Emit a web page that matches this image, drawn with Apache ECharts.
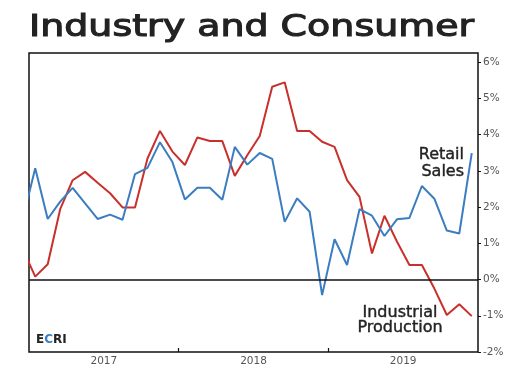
<!DOCTYPE html>
<html>
<head>
<meta charset="utf-8">
<script src="https://cdn.jsdelivr.net/npm/echarts@6/dist/echarts.min.js"></script>
<style>html,body{margin:0;padding:0;background:#fff;}#c{width:530px;height:383px;}</style>
</head>
<body>
<div id="c"></div>
<script>
// Months (Dec 2016 point is partly outside the frame and gets clipped)
var months = ["2016-12",
  "2017-01","2017-02","2017-03","2017-04","2017-05","2017-06","2017-07","2017-08","2017-09","2017-10","2017-11","2017-12",
  "2018-01","2018-02","2018-03","2018-04","2018-05","2018-06","2018-07","2018-08","2018-09","2018-10","2018-11","2018-12",
  "2019-01","2019-02","2019-03","2019-04","2019-05","2019-06","2019-07","2019-08","2019-09","2019-10","2019-11","2019-12"];
var retailSales = [1.67,
  3.07,1.67,2.15,2.53,2.10,1.67,1.79,1.65,2.91,3.08,3.79,3.24,
  2.21,2.53,2.53,2.20,3.66,3.17,3.49,3.33,1.59,2.24,1.87,-0.43,
  1.11,0.40,1.94,1.76,1.20,1.66,1.70,2.58,2.23,1.35,1.27,3.49];
var industrialProduction = [0.84,
  0.08,0.42,1.94,2.74,2.97,2.67,2.38,1.99,1.99,3.34,4.10,3.53,
  3.16,3.92,3.82,3.82,2.86,3.43,3.96,5.32,5.44,4.10,4.10,3.80,
  3.66,2.74,2.28,0.72,1.76,1.05,0.40,0.40,-0.25,-0.98,-0.68,-1.01];
var yearLabels = ["2017","2018","2019"];
var yTicks = [-2,-1,0,1,2,3,4,5,6];

var startYear = 2017;
function monthPos(m){ var p = m.split("-"); return (parseInt(p[0])-startYear)*12 + (parseInt(p[1])-1) + 0.5; }
function pairs(vals){ return months.map(function(m,i){ return [monthPos(m), vals[i]]; }); }
var yearBoundaries = yearLabels.slice(1).map(function(y,i){ return (i+1)*12; });
var yearCenters = yearLabels.map(function(y,i){ return i*12+6; });

var FONT = "DejaVu Sans";
var chart = echarts.init(document.getElementById('c'), null, {renderer:'canvas'});
chart.setOption({
  animation:false,
  grid:{left:29, right:52, top:53, bottom:31, show:true, borderColor:'#111', borderWidth:1.5, backgroundColor:'transparent'},
  xAxis:{type:'value', min:0, max:yearLabels.length*12, position:'bottom',
    axisLine:{show:false, onZero:false},
    axisTick:{show:true, inside:true, length:4, customValues:yearBoundaries, lineStyle:{color:'#111', width:1.2}},
    axisLabel:{show:true, customValues:yearCenters, margin:4, color:'#555', fontSize:10.5, fontFamily:FONT,
      formatter:function(v){ return yearLabels[Math.round((v-6)/12)]; }},
    splitLine:{show:false}},
  yAxis:{type:'value', min:-2, max:6.25, position:'right',
    axisLine:{show:false, onZero:false},
    axisTick:{show:true, inside:false, length:3, customValues:yTicks, lineStyle:{color:'#111', width:1}},
    axisLabel:{show:true, customValues:yTicks, margin:5, color:'#555', fontSize:10.5, fontFamily:FONT,
      formatter:function(v){ return v + '%'; }},
    splitLine:{show:false}},
  series:[
    {type:'line', name:'Industrial Production', data:pairs(industrialProduction), showSymbol:false, clip:true,
      lineStyle:{color:'#c9302c', width:2}, itemStyle:{color:'#c9302c'},
      markLine:{silent:true, symbol:['none','none'], label:{show:false},
        lineStyle:{color:'#111', width:1.5, type:'solid'}, data:[{yAxis:0}]}},
    {type:'line', name:'Retail Sales', data:pairs(retailSales), showSymbol:false, clip:true,
      lineStyle:{color:'#3b7dc0', width:2}, itemStyle:{color:'#3b7dc0'}}
  ],
  graphic:[
    {type:'text', x:29, y:28, scaleX:1.265, style:{text:'Industry and Consumer', x:0, y:0, fontSize:30, fontFamily:FONT, fill:'#222', stroke:'#222', lineWidth:1.1, verticalAlign:'middle', align:'left'}},
    {type:'text', x:464, y:163, style:{text:'Retail\nSales', fontSize:16, lineHeight:17, fontFamily:FONT, fill:'#222', stroke:'#222', lineWidth:0.4, align:'right', verticalAlign:'middle'}},
    {type:'text', x:400, y:320, style:{text:'Industrial\nProduction', fontSize:16, lineHeight:15, fontFamily:FONT, fill:'#222', stroke:'#222', lineWidth:0.4, align:'center', verticalAlign:'middle'}},
    {type:'text', x:36, y:340, style:{rich:{e:{fontSize:12, fontWeight:'bold', fill:'#222', fontFamily:FONT}, c:{fontSize:12, fontWeight:'bold', fill:'#3b7dc0', fontFamily:FONT}}, text:'{e|E}{c|C}{e|RI}', verticalAlign:'middle'}}
  ]
});
</script>
</body>
</html>
